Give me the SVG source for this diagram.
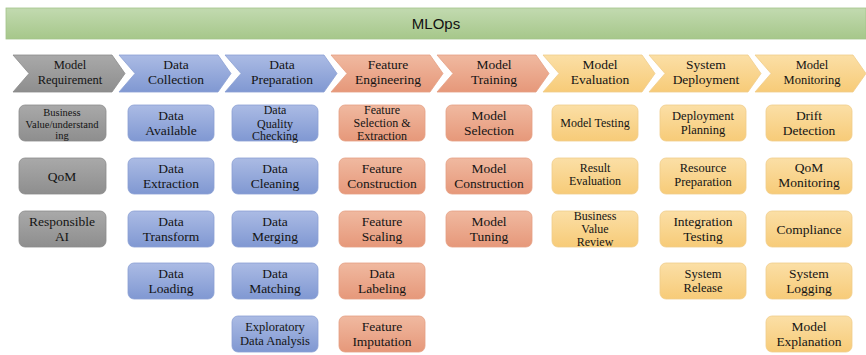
<svg xmlns="http://www.w3.org/2000/svg" width="866" height="355" viewBox="0 0 866 355">
<defs>
<linearGradient id="gGreen" x1="0" y1="0" x2="0" y2="1"><stop offset="0" stop-color="#c2dab0"/><stop offset="1" stop-color="#a6c78a"/></linearGradient>
<linearGradient id="gGray" x1="0" y1="0" x2="0" y2="1"><stop offset="0" stop-color="#a9a9a9"/><stop offset="1" stop-color="#8e8e8e"/></linearGradient>
<linearGradient id="gBlue" x1="0" y1="0" x2="0" y2="1"><stop offset="0" stop-color="#abbbe4"/><stop offset="1" stop-color="#8098d2"/></linearGradient>
<linearGradient id="gPink" x1="0" y1="0" x2="0" y2="1"><stop offset="0" stop-color="#f0b9a0"/><stop offset="1" stop-color="#e6987a"/></linearGradient>
<linearGradient id="gYellow" x1="0" y1="0" x2="0" y2="1"><stop offset="0" stop-color="#fbdfa6"/><stop offset="1" stop-color="#f7cb78"/></linearGradient>
</defs>
<style>
text{font-family:"Liberation Serif","Times New Roman",serif;fill:#141414;text-anchor:middle;font-size:13.5px}
.title{font-family:"Liberation Sans",Arial,sans-serif;font-size:15px;fill:#111}
.gray{fill:url(#gGray);stroke:#8a8a8a;stroke-width:0.8}
.blue{fill:url(#gBlue);stroke:#8a9fd3;stroke-width:0.8}
.pink{fill:url(#gPink);stroke:#e5a083;stroke-width:0.8}
.yellow{fill:url(#gYellow);stroke:#f0cd8a;stroke-width:0.8}
.s11{font-size:12px}
.s12{font-size:12.5px}
.s10{font-size:10.5px}
</style>

<g id="title">
<rect x="6" y="8" width="860" height="31" fill="url(#gGreen)" stroke="#a3c48a" stroke-width="0.8"/>
<text class="title" x="436" y="29">MLOps</text>
</g>

<g id="stages">
<g id="stage-model-requirement">
<polygon class="gray" points="13,55 112,55 125,73.5 112,92 13,92 29,73.5"/>
<text class="s12" x="70" y="69">Model</text><text class="s12" x="70" y="84">Requirement</text>
</g>
<g id="stage-data-collection">
<polygon class="blue" points="119,55 218,55 231,73.5 218,92 119,92 135,73.5"/>
<text x="176" y="69">Data</text><text x="176" y="84">Collection</text>
</g>
<g id="stage-data-preparation">
<polygon class="blue" points="225,55 324,55 337,73.5 324,92 225,92 241,73.5"/>
<text x="282" y="69">Data</text><text x="282" y="84">Preparation</text>
</g>
<g id="stage-feature-engineering">
<polygon class="pink" points="331,55 430,55 443,73.5 430,92 331,92 347,73.5"/>
<text x="388" y="69">Feature</text><text x="388" y="84">Engineering</text>
</g>
<g id="stage-model-training">
<polygon class="pink" points="437,55 536,55 549,73.5 536,92 437,92 453,73.5"/>
<text x="494" y="69">Model</text><text x="494" y="84">Training</text>
</g>
<g id="stage-model-evaluation">
<polygon class="yellow" points="543,55 642,55 655,73.5 642,92 543,92 559,73.5"/>
<text x="600" y="69">Model</text><text x="600" y="84">Evaluation</text>
</g>
<g id="stage-system-deployment">
<polygon class="yellow" points="649,55 748,55 761,73.5 748,92 649,92 665,73.5"/>
<text x="706" y="69">System</text><text x="706" y="84">Deployment</text>
</g>
<g id="stage-model-monitoring">
<polygon class="yellow" points="755,55 853,55 866,73.5 853,92 755,92 771,73.5"/>
<text class="s12" x="812" y="69">Model</text><text class="s12" x="812" y="84">Monitoring</text>
</g>
</g>

<!-- Column 1: Model Requirement -->
<g id="business-value">
<rect class="gray" x="19" y="105" width="87" height="36" rx="6"/>
<text class="s10" x="62" y="116">Business</text><text class="s10" x="62" y="127.5">Value/understand</text><text class="s10" x="62" y="138.5">ing</text>
</g>
<g id="qom">
<rect class="gray" x="19" y="158" width="87" height="36" rx="6"/>
<text x="62" y="180.5">QoM</text>
</g>
<g id="responsible-ai">
<rect class="gray" x="19" y="211" width="87" height="36" rx="6"/>
<text x="62" y="226">Responsible</text><text x="62" y="241">AI</text>
</g>

<!-- Column 2: Data Collection -->
<g id="data-available">
<rect class="blue" x="128" y="105" width="86" height="36" rx="6"/>
<text x="171" y="120">Data</text><text x="171" y="135">Available</text>
</g>
<g id="data-extraction">
<rect class="blue" x="128" y="158" width="86" height="36" rx="6"/>
<text x="171" y="173">Data</text><text x="171" y="188">Extraction</text>
</g>
<g id="data-transform">
<rect class="blue" x="128" y="211" width="86" height="36" rx="6"/>
<text x="171" y="226">Data</text><text x="171" y="241">Transform</text>
</g>
<g id="data-loading">
<rect class="blue" x="128" y="263" width="86" height="36" rx="6"/>
<text x="171" y="278">Data</text><text x="171" y="293">Loading</text>
</g>

<!-- Column 3: Data Preparation -->
<g id="data-quality-checking">
<rect class="blue" x="232" y="105" width="86" height="36" rx="6"/>
<text class="s11" x="275" y="114">Data</text><text class="s11" x="275" y="127.5">Quality</text><text class="s11" x="275" y="140">Checking</text>
</g>
<g id="data-cleaning">
<rect class="blue" x="232" y="158" width="86" height="36" rx="6"/>
<text x="275" y="173">Data</text><text x="275" y="188">Cleaning</text>
</g>
<g id="data-merging">
<rect class="blue" x="232" y="211" width="86" height="36" rx="6"/>
<text x="275" y="226">Data</text><text x="275" y="241">Merging</text>
</g>
<g id="data-matching">
<rect class="blue" x="232" y="263" width="86" height="36" rx="6"/>
<text x="275" y="278">Data</text><text x="275" y="293">Matching</text>
</g>
<g id="exploratory-data-analysis">
<rect class="blue" x="232" y="316" width="86" height="36" rx="6"/>
<text class="s12" x="275" y="331">Exploratory</text><text class="s12" x="275" y="344.5">Data Analysis</text>
</g>

<!-- Column 4: Feature Engineering -->
<g id="feature-selection-extraction">
<rect class="pink" x="339" y="105" width="86" height="36" rx="6"/>
<text class="s11" x="382" y="114">Feature</text><text class="s11" x="382" y="127">Selection &amp;</text><text class="s11" x="382" y="139.5">Extraction</text>
</g>
<g id="feature-construction">
<rect class="pink" x="339" y="158" width="86" height="36" rx="6"/>
<text x="382" y="173">Feature</text><text x="382" y="188">Construction</text>
</g>
<g id="feature-scaling">
<rect class="pink" x="339" y="211" width="86" height="36" rx="6"/>
<text x="382" y="226">Feature</text><text x="382" y="241">Scaling</text>
</g>
<g id="data-labeling">
<rect class="pink" x="339" y="263" width="86" height="36" rx="6"/>
<text x="382" y="278">Data</text><text x="382" y="293">Labeling</text>
</g>
<g id="feature-imputation">
<rect class="pink" x="339" y="316" width="86" height="36" rx="6"/>
<text x="382" y="331">Feature</text><text x="382" y="346">Imputation</text>
</g>

<!-- Column 5: Model Training -->
<g id="model-selection">
<rect class="pink" x="446" y="105" width="86" height="36" rx="6"/>
<text x="489" y="120">Model</text><text x="489" y="135">Selection</text>
</g>
<g id="model-construction">
<rect class="pink" x="446" y="158" width="86" height="36" rx="6"/>
<text x="489" y="173">Model</text><text x="489" y="188">Construction</text>
</g>
<g id="model-tuning">
<rect class="pink" x="446" y="211" width="86" height="36" rx="6"/>
<text x="489" y="226">Model</text><text x="489" y="241">Tuning</text>
</g>

<!-- Column 6: Model Evaluation -->
<g id="model-testing">
<rect class="yellow" x="552" y="105" width="86" height="36" rx="6"/>
<text class="s11" x="595" y="127">Model Testing</text>
</g>
<g id="result-evaluation">
<rect class="yellow" x="552" y="158" width="86" height="36" rx="6"/>
<text class="s11" x="595" y="171.5">Result</text><text class="s11" x="595" y="185">Evaluation</text>
</g>
<g id="business-value-review">
<rect class="yellow" x="552" y="211" width="86" height="36" rx="6"/>
<text class="s11" x="595" y="220">Business</text><text class="s11" x="595" y="233">Value</text><text class="s11" x="595" y="245.5">Review</text>
</g>

<!-- Column 7: System Deployment -->
<g id="deployment-planning">
<rect class="yellow" x="660" y="105" width="86" height="36" rx="6"/>
<text class="s12" x="703" y="119.5">Deployment</text><text class="s12" x="703" y="133.5">Planning</text>
</g>
<g id="resource-preparation">
<rect class="yellow" x="660" y="158" width="86" height="36" rx="6"/>
<text class="s12" x="703" y="172">Resource</text><text class="s12" x="703" y="186">Preparation</text>
</g>
<g id="integration-testing">
<rect class="yellow" x="660" y="211" width="86" height="36" rx="6"/>
<text x="703" y="226">Integration</text><text x="703" y="241">Testing</text>
</g>
<g id="system-release">
<rect class="yellow" x="660" y="263" width="86" height="36" rx="6"/>
<text class="s12" x="703" y="277.5">System</text><text class="s12" x="703" y="291.5">Release</text>
</g>

<!-- Column 8: Model Monitoring -->
<g id="drift-detection">
<rect class="yellow" x="766" y="105" width="86" height="36" rx="6"/>
<text x="809" y="120">Drift</text><text x="809" y="135">Detection</text>
</g>
<g id="qom-monitoring">
<rect class="yellow" x="766" y="158" width="86" height="36" rx="6"/>
<text x="809" y="172">QoM</text><text x="809" y="187">Monitoring</text>
</g>
<g id="compliance">
<rect class="yellow" x="766" y="211" width="86" height="36" rx="6"/>
<text x="809" y="233.5">Compliance</text>
</g>
<g id="system-logging">
<rect class="yellow" x="766" y="263" width="86" height="36" rx="6"/>
<text x="809" y="278">System</text><text x="809" y="293">Logging</text>
</g>
<g id="model-explanation">
<rect class="yellow" x="766" y="316" width="86" height="36" rx="6"/>
<text x="809" y="331">Model</text><text x="809" y="346">Explanation</text>
</g>
</svg>
